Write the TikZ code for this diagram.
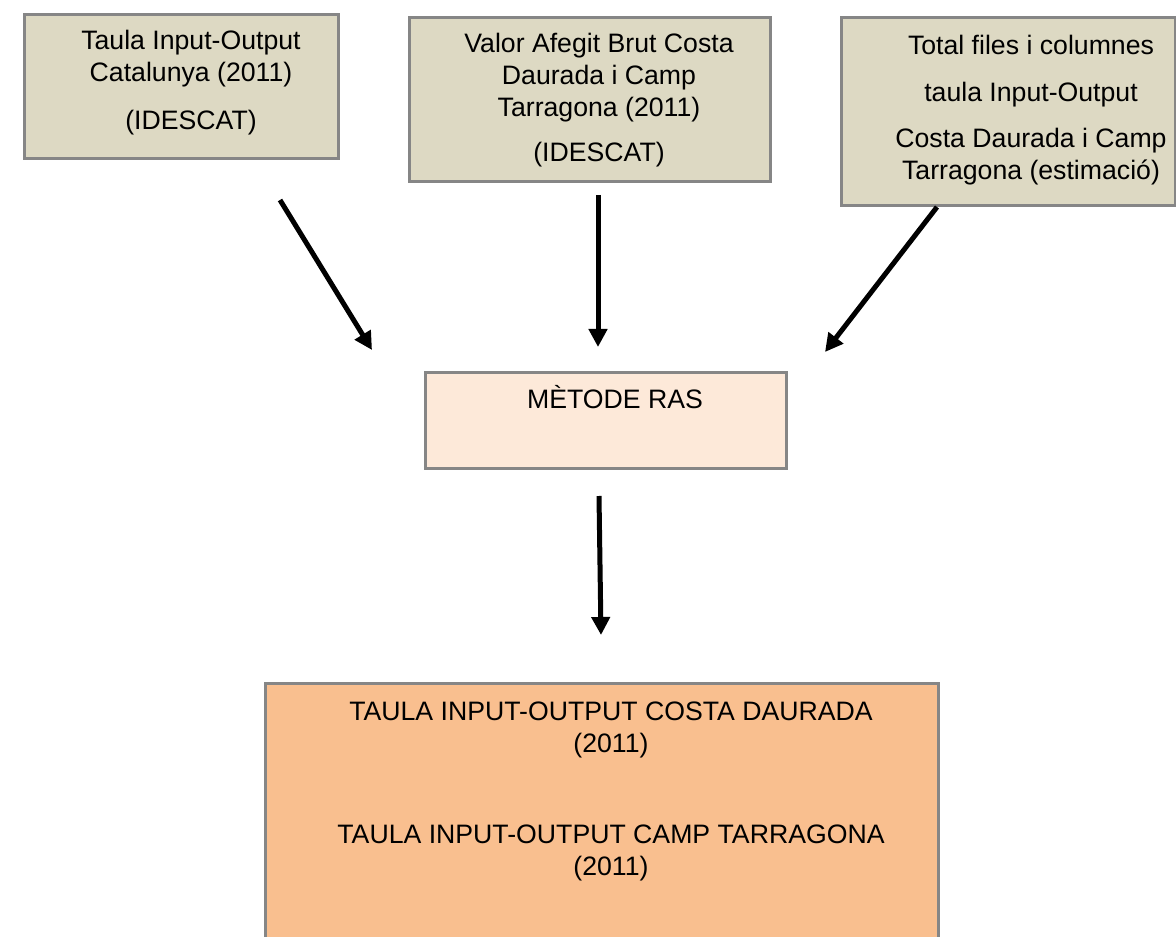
\documentclass[tikz,border=0pt]{standalone}
\usepackage{fontspec}
\setmainfont{Liberation Sans}
\usetikzlibrary{arrows.meta,fit}

\definecolor{srcfill}{HTML}{DDD9C3}
\definecolor{rasfill}{HTML}{FDE9D9}
\definecolor{outfill}{HTML}{F9BF8F}
\definecolor{boxedge}{HTML}{868686}

\tikzset{
  box/.style={draw=boxedge, line width=2.25pt, inner sep=0pt},
  txt/.style={align=center, anchor=base, inner sep=0pt, font=\fontsize{20pt}{24pt}\selectfont},
  flow/.style={->, line width=3.75pt},
}

\begin{document}
\begin{tikzpicture}[x=0.75pt, y=-0.75pt, >={Triangle[length=13.5pt,width=13.5pt]}]
      \useasboundingbox (0,0) rectangle (1176,937);
      \clip (0,0) rectangle (1176,937);

      % source tables (text placed by the baseline of its last line)
      \node[box, fill=srcfill, fit={(24,15) (338,159)}] (cat) {};
      \node[box, fill=srcfill, fit={(409,18) (770,182)}] (vab) {};
      \node[box, fill=srcfill, fit={(841,18) (1175,206)}] (tot) {};
      \node[txt] (catT) at (191,130) {Taula Input-Output\\Catalunya (2011)\\[12pt](IDESCAT)};
      \node[txt] (vabT) at (599,162) {Valor Afegit Brut Costa\\Daurada i Camp\\Tarragona (2011)\\[10pt](IDESCAT)};
      \node[txt] (totT) at (1031,180) {Total files i columnes\\[11pt]taula Input-Output\\[11pt]Costa Daurada i Camp\\Tarragona (estimació)};

      % method
      \node[box, fill=rasfill, fit={(425,372) (786,468)}] (ras) {};
      \node[txt] (rasT) at (615,408) {MÈTODE RAS};

      % result
      \node[box, fill=outfill, fit={(265,683) (938,960)}] (res) {};
      \node[txt] (dau) at (611,752) {TAULA INPUT-OUTPUT COSTA DAURADA\\(2011)};
      \node[txt] (tgn) at (611,875) {TAULA INPUT-OUTPUT CAMP TARRAGONA\\(2011)};

      \coordinate (a1) at (280,200); \coordinate (b1) at (372,350);
      \coordinate (a2) at (598,195); \coordinate (b2) at (598,347);
      \coordinate (a3) at (937,207); \coordinate (b3) at (825,352);
      \coordinate (a4) at (599,496); \coordinate (b4) at (601,635);
      \draw[flow] (a1) -- (b1);
      \draw[flow] (a2) -- (b2);
      \draw[flow] (a3) -- (b3);
      \draw[flow] (a4) -- (b4);
\end{tikzpicture}
\end{document}
